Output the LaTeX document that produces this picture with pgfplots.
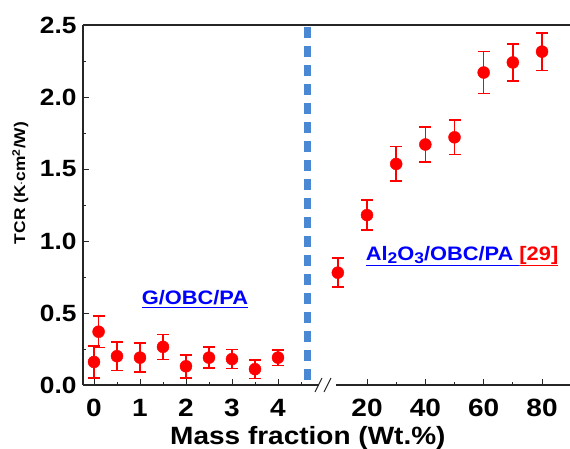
\documentclass[border=0pt]{standalone}
\usepackage{pgfplots}
\pgfplotsset{compat=1.18}
\usepackage{fontspec}
\setmainfont{Liberation Sans}[FakeStretch=1.12]
\definecolor{dashblue}{RGB}{74,136,212}
\newcommand\sub[1]{\raisebox{-0.35ex}{\fontsize{15.5}{15.5}\selectfont #1}}

\begin{document}
\begin{tikzpicture}
\useasboundingbox (-83pt,-64pt) rectangle (487pt,385pt);
\pgfplotsset{
  every axis/.append style={
    scale only axis, height=360pt, ymin=0, ymax=2.5,
    axis line style={line width=1.1pt, black!85},
    tick style={line width=0.9pt, black!85},
    major tick length=6pt, minor tick length=3pt,
    tick align=inside,
    axis x line*=box, xtick pos=left,
    xticklabel style={font=\bfseries\fontsize{25}{25}\selectfont, yshift=-11pt},
    clip=false,
    /pgf/number format/assume math mode=true,
  },
  errstyle/.style={
    only marks, red, mark=*, mark size=6pt,
    mark options={draw=red, fill=red},
    error bars/.cd, y dir=both, y explicit,
    error bar style={line width=1.6pt, draw=red},
    error mark options={rotate=90, mark size=6pt, line width=1.6pt, draw=red},
  },
}
% left part: 0-4 wt.%
\begin{axis}[
  name=A, at={(0,0)}, anchor=south west,
  width=239pt, xmin=-0.239, xmax=4.957,
  axis y line*=left,
  xtick={0,1,2,3,4},
  minor xtick={0.5,1.5,2.5,3.5,4.5},
  ytick={0,0.5,1.0,1.5,2.0,2.5},
  minor y tick num=1,
  yticklabel style={font=\bfseries\fontsize{23.5}{23.5}\selectfont, xshift=-3pt,
    /pgf/number format/.cd, fixed, fixed zerofill, precision=1},
  ylabel={TCR (K$\cdot$cm\textsuperscript{2}/W)},
  ylabel style={font=\bfseries\fontsize{15.5}{15.5}\selectfont,
    at={(axis description cs:-0.262,0.561)}, anchor=center},
  xlabel={Mass fraction (Wt.\%)},
  xlabel style={font=\bfseries\fontsize{25}{25}\selectfont,
    at={(axis description cs:0.941,-0.164)}, anchor=base},
]
\addplot[errstyle] coordinates {
  (0,0.16) +- (0,0.11)
  (0.1,0.37) +- (0,0.11)
  (0.5,0.20) +- (0,0.10)
  (1,0.19) +- (0,0.10)
  (1.5,0.265) +- (0,0.087)
  (2,0.13) +- (0,0.08)
  (2.5,0.19) +- (0,0.072)
  (3,0.18) +- (0,0.066)
  (3.5,0.11) +- (0,0.064)
  (4,0.19) +- (0,0.055)
};
\draw[dashblue, line width=7pt, dash pattern=on 11pt off 8pt]
  (axis cs:4.652,2.486) -- (axis cs:4.652,0.014);
\node[anchor=base, text=blue, font=\bfseries\fontsize{19.5}{21}\selectfont]
  at (axis cs:2.196,0.556) {\underline{G/OBC/PA}};
\end{axis}
% right part: 10-80 wt.%
\begin{axis}[
  name=B, at={(239pt,0)}, anchor=south west,
  width=248pt, xmin=4.573, xmax=89.59,
  axis y line=none,
  xtick={20,40,60,80},
  minor xtick={30,50,70},
]
\addplot[errstyle] coordinates {
  (10,0.78) +- (0,0.10)
  (20,1.18) +- (0,0.105)
  (30,1.535) +- (0,0.12)
  (40,1.67) +- (0,0.12)
  (50,1.72) +- (0,0.12)
  (60,2.17) +- (0,0.145)
  (70,2.24) +- (0,0.13)
  (80,2.315) +- (0,0.13)
};
\node[anchor=base, font=\bfseries\fontsize{19.5}{21}\selectfont]
  at (axis cs:52.6,0.868)
  {\textcolor{blue}{\underline{Al\sub{2}O\sub{3}/OBC/PA~}}\textcolor{red}{\underline{[29]}}};
\end{axis}
% axis break
\fill[white] (-3pt,-2pt) ++(239pt,0) rectangle ++(17pt,4pt);
\draw[line width=0.9pt, black!85] (232pt,-7pt) -- ++(7pt,14pt);
\draw[line width=0.9pt, black!85] (241pt,-7pt) -- ++(7pt,14pt);
\end{tikzpicture}
\end{document}
